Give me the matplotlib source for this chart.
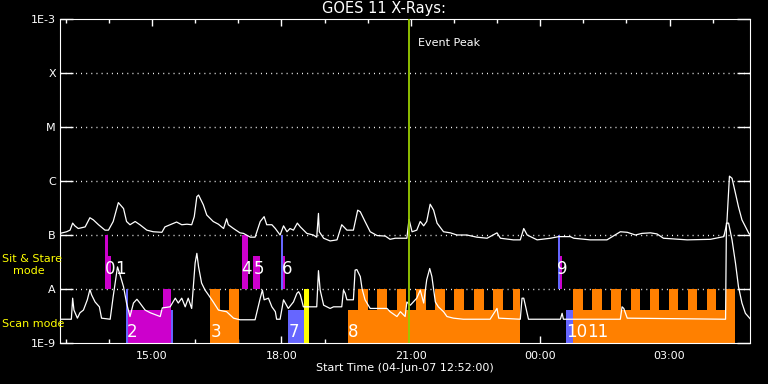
import matplotlib
matplotlib.use("Agg")
import matplotlib.pyplot as plt
import numpy as np

# time in hours from 00:00 04-Jun-07 (values > 24 are on 05-Jun)
t_start = 12 + 52 / 60.
t_end = t_start + 16.0
event_peak = 20.95

# GOES 11 long channel (1-8 A), log10 flux
long_t = [12.87, 13.02, 13.10, 13.16, 13.21, 13.29, 13.45, 13.56, 13.64, 13.76,
          13.91, 13.99, 14.10, 14.22, 14.34, 14.41, 14.49, 14.61, 14.72, 14.88,
          15.03, 15.23, 15.30, 15.42, 15.57, 15.69, 15.81, 15.92, 15.98, 16.04,
          16.08, 16.19, 16.27, 16.42, 16.54, 16.66, 16.73, 16.77, 16.89, 17.04,
          17.12, 17.28, 17.39, 17.51, 17.60, 17.66, 17.78, 17.86, 17.97, 18.05,
          18.13, 18.20, 18.28, 18.37, 18.44, 18.59, 18.74, 18.82, 18.86, 18.88,
          18.98, 19.13, 19.29, 19.40, 19.52, 19.67, 19.77, 19.83, 19.94, 20.06,
          20.22, 20.41, 20.52, 20.64, 20.91, 20.96, 21.03, 21.14, 21.22, 21.30,
          21.37, 21.45, 21.53, 21.61, 21.76, 21.92, 22.07, 22.30, 22.53, 22.77,
          23.00, 23.08, 23.38, 23.54, 23.62, 23.70, 23.93, 24.24, 24.43, 24.70,
          24.78, 25.16, 25.55, 25.86, 26.02, 26.21, 26.36, 26.56, 26.71, 26.86,
          27.41, 27.95, 28.26, 28.33, 28.39, 28.45, 28.53, 28.60, 28.68, 28.84,
          28.88]
long_log = [-6.97, -6.94, -6.91, -6.78, -6.83, -6.88, -6.85, -6.68, -6.72, -6.81,
            -6.91, -6.91, -6.75, -6.40, -6.51, -6.75, -6.81, -6.75, -6.81, -6.91,
            -6.94, -6.95, -6.85, -6.81, -6.76, -6.81, -6.80, -6.81, -6.66, -6.29,
            -6.26, -6.44, -6.63, -6.75, -6.80, -6.88, -6.70, -6.81, -6.88, -6.96,
            -6.97, -7.04, -7.04, -6.75, -6.66, -6.81, -6.81, -6.88, -7.00, -6.83,
            -6.94, -6.88, -6.91, -6.78, -6.85, -6.97, -7.00, -7.04, -6.60, -6.94,
            -7.06, -7.11, -7.09, -6.81, -6.91, -6.91, -6.54, -6.57, -6.75, -6.94,
            -7.01, -7.02, -7.08, -7.06, -7.06, -6.71, -6.94, -6.91, -6.75, -6.83,
            -6.75, -6.43, -6.54, -6.78, -6.94, -6.96, -7.00, -7.00, -7.04, -7.06,
            -6.96, -7.06, -7.09, -7.09, -6.88, -7.00, -7.09, -7.06, -7.03, -7.03,
            -7.06, -7.09, -7.09, -6.94, -6.95, -7.00, -6.97, -6.96, -6.98, -7.06,
            -7.09, -7.08, -7.03, -6.78, -5.91, -5.95, -6.23, -6.48, -6.72, -6.97,
            -7.00]

# GOES 11 short channel (0.5-4 A), log10 flux
short_t = [12.87, 13.13, 13.16, 13.19, 13.27, 13.33, 13.41, 13.50, 13.56, 13.60,
           13.68, 13.78, 13.83, 14.03, 14.10, 14.20, 14.26, 14.34, 14.41, 14.49,
           14.57, 14.65, 14.72, 14.84, 14.96, 15.19, 15.24, 15.42, 15.54, 15.61,
           15.69, 15.77, 15.84, 15.92, 16.00, 16.04, 16.08, 16.15, 16.23, 16.31,
           16.42, 16.54, 16.66, 16.73, 16.89, 17.04, 17.39, 17.51, 17.56, 17.60,
           17.70, 17.78, 17.86, 17.89, 17.97, 18.05, 18.16, 18.28, 18.36, 18.40,
           18.44, 18.51, 18.82, 18.86, 18.90, 18.98, 19.13, 19.21, 19.40, 19.44,
           19.48, 19.52, 19.67, 19.71, 19.75, 19.83, 19.87, 19.94, 20.06, 20.45,
           20.52, 20.68, 20.76, 20.87, 20.91, 20.99, 21.14, 21.22, 21.30, 21.37,
           21.44, 21.49, 21.57, 21.64, 21.76, 21.84, 21.99, 22.22, 22.84, 23.00,
           23.04, 23.54, 23.58, 23.62, 23.73, 24.47, 24.51, 24.54, 25.86, 25.90,
           25.94, 26.02, 28.30, 28.32, 28.37, 28.45, 28.53, 28.60, 28.68, 28.76,
           28.88]
short_log = [-8.56, -8.56, -8.17, -8.39, -8.54, -8.44, -8.39, -8.20, -8.01, -8.11,
             -8.24, -8.33, -8.54, -8.56, -8.14, -7.59, -7.74, -7.96, -8.26, -8.51,
             -8.26, -8.19, -8.26, -8.39, -8.44, -8.51, -8.35, -8.33, -8.17, -8.26,
             -8.17, -8.33, -8.17, -8.36, -7.52, -7.34, -7.59, -7.89, -8.02, -8.11,
             -8.24, -8.39, -8.41, -8.42, -8.54, -8.57, -8.57, -8.17, -8.02, -8.20,
             -8.17, -8.33, -8.42, -8.56, -8.56, -8.20, -8.36, -8.24, -8.08, -8.05,
             -8.11, -8.33, -8.33, -7.66, -8.02, -8.30, -8.36, -8.33, -8.33, -8.02,
             -8.08, -8.20, -8.20, -7.65, -7.64, -7.77, -7.99, -8.20, -8.36, -8.36,
             -8.42, -8.51, -8.42, -8.51, -8.24, -8.30, -8.17, -8.02, -8.26, -7.83,
             -7.62, -7.77, -8.24, -8.33, -8.42, -8.51, -8.54, -8.56, -8.56, -8.36,
             -8.54, -8.56, -8.17, -8.17, -8.56, -8.56, -8.45, -8.56, -8.56, -8.33,
             -8.36, -8.54, -8.56, -6.78, -6.78, -7.09, -7.52, -7.96, -8.26, -8.45,
             -8.56]

# observation blocks: start, end (hours), bottom/top (log10 units of the plot), colour
blk_t0 = [13.91, 13.98, 14.40, 14.44, 15.26, 15.44,
          16.35, 16.35, 16.79,
          17.09, 17.35, 18.00, 18.03, 18.16, 18.535,
          19.54, 19.77, 20.22, 20.67, 21.12, 21.57, 22.01, 22.46, 22.91, 23.36,
          24.42, 24.45, 24.61,
          24.77, 24.77, 25.21, 25.65, 26.10, 26.54, 26.98, 27.42, 27.86, 28.30]
blk_t1 = [13.98, 14.05, 14.44, 15.44, 15.44, 15.48,
          17.02, 16.58, 17.02,
          17.22, 17.51, 18.03, 18.09, 18.535, 18.63,
          23.54, 20.00, 20.45, 20.90, 21.35, 21.80, 22.24, 22.69, 23.14, 23.54,
          24.45, 24.51, 24.77,
          28.53, 24.995, 25.435, 25.875, 26.325, 26.765, 27.205, 27.645, 28.085, 28.53]
blk_bot = [-8, -8, -9, -9, -9, -9,
           -9, -9, -9,
           -8, -8, -8, -8, -9, -9,
           -9, -9, -9, -9, -9, -9, -9, -9, -9, -9,
           -8, -8, -9,
           -9, -9, -9, -9, -9, -9, -9, -9, -9, -9]
blk_top = [-7, -7.39, -8, -8.39, -8, -8.39,
           -8.39, -8, -8,
           -7, -7.39, -7, -7.39, -8.39, -8,
           -8.39, -8, -8, -8, -8, -8, -8, -8, -8, -8,
           -7, -7.39, -8.39,
           -8.39, -8, -8, -8, -8, -8, -8, -8, -8, -8]
blk_col = ['m', 'm', 'b', 'm', 'm', 'b',
           'o', 'o', 'o',
           'm', 'm', 'b', 'm', 'b', 'y',
           'o', 'o', 'o', 'o', 'o', 'o', 'o', 'o', 'o', 'o',
           'b', 'm', 'b',
           'o', 'o', 'o', 'o', 'o', 'o', 'o', 'o', 'o', 'o']

obs_labels = ['0', '1', '2', '3', '4', '5', '6', '7', '8', '9', '10', '11']
obs_t = [13.90, 14.15, 14.42, 16.35, 17.08, 17.35, 18.01, 18.16, 19.54, 24.40, 24.60, 25.08]
obs_row = ['ss', 'ss', 'scan', 'scan', 'ss', 'ss', 'ss', 'scan', 'scan', 'ss', 'scan', 'scan']

colors = {'m': '#cc00cc', 'b': '#6666ff', 'o': '#ff8000', 'y': '#ffff00'}

fig = plt.figure(figsize=(7.68, 3.84), dpi=100, facecolor='black')
ax = fig.add_axes([60 / 768, 1 - 343 / 384, 690 / 768, 324 / 384])
ax.set_facecolor('black')
ax.set_yscale('log')
ax.set_xlim(t_start, t_end)
ax.set_ylim(1e-9, 1e-3)

for a, b, lo, hi, c in zip(blk_t0, blk_t1, blk_bot, blk_top, blk_col):
    ax.bar(a, 10 ** hi - 10 ** lo, width=b - a, bottom=10 ** lo, align='edge',
           color=colors[c], linewidth=0, zorder=2)

ax.plot(long_t, 10 ** np.array(long_log), color='white', lw=0.9, zorder=3)
ax.plot(short_t, 10 ** np.array(short_log), color='white', lw=0.9, zorder=3)

ax.axvline(event_peak, color='#99cc00', lw=1.3, zorder=4)
ax.text(event_peak + 0.22, 10 ** -3.44, 'Event Peak', color='white', fontsize=8,
        va='center', ha='left')

for lab, t, row in zip(obs_labels, obs_t, obs_row):
    yv = 10 ** -7.63 if row == 'ss' else 10 ** -8.79
    ax.text(t, yv, lab, color='white', fontsize=12, va='center', ha='left',
            family=['Liberation Sans Narrow', 'DejaVu Sans'], zorder=5)

# axes cosmetics
for s in ax.spines.values():
    s.set_color('white')
ax.set_yticks([1e-9, 1e-8, 1e-7, 1e-6, 1e-5, 1e-4, 1e-3])
ax.set_yticklabels(['1E-9', 'A', 'B', 'C', 'M', 'X', '1E-3'])
ax.yaxis.set_minor_locator(matplotlib.ticker.NullLocator())
ax.set_xticks([15, 18, 21, 24, 27])
ax.set_xticklabels(['15:00', '18:00', '21:00', '00:00', '03:00'])
ax.set_xticks(np.arange(13, 29), minor=True)
ax.tick_params(axis='y', which='major', direction='in', length=9.6, width=1,
               colors='white', labelsize=8, right=True, pad=3)
ax.tick_params(axis='x', which='major', direction='in', length=5, width=1,
               colors='white', labelsize=8, top=True, pad=6)
ax.tick_params(axis='x', which='minor', direction='in', length=3, width=1,
               colors='white', top=True)
for yv in [1e-8, 1e-7, 1e-6, 1e-5, 1e-4]:
    ax.axhline(yv, color='white', lw=1, linestyle=(0, (0.7, 3)), zorder=1)

fig.text(384 / 768, 1 - 9 / 384, 'GOES 11 X-Rays:', color='white', fontsize=10.5,
         ha='center', va='center')
fig.text(405 / 768, 1 - 368 / 384, 'Start Time (04-Jun-07 12:52:00)', color='white',
         fontsize=8, ha='center', va='center')
fig.text(2 / 768, 1 - 259 / 384, 'Sit & Stare', color='yellow', fontsize=8,
         ha='left', va='center')
fig.text(13 / 768, 1 - 271 / 384, 'mode', color='yellow', fontsize=8,
         ha='left', va='center')
fig.text(2 / 768, 1 - 324 / 384, 'Scan mode', color='yellow', fontsize=8,
         ha='left', va='center')

fig.savefig('out.png', dpi=100, facecolor='black')
